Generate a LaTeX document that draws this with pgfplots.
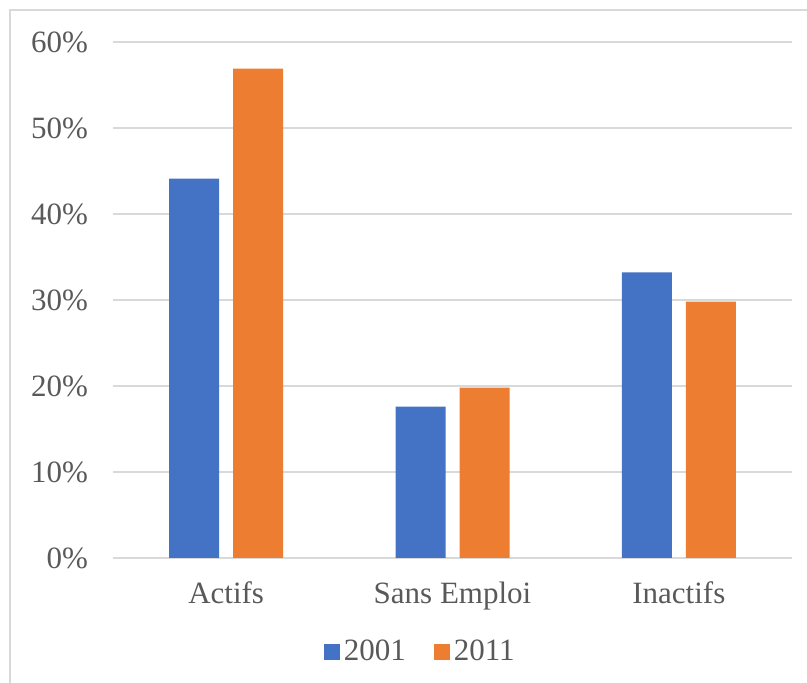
\documentclass[border=0pt]{standalone}
\usepackage{fontspec}
\setmainfont{Liberation Serif}
\usepackage{pgfplots}
\pgfplotsset{compat=1.18}
\definecolor{cblue}{HTML}{4472C4}
\definecolor{corange}{HTML}{ED7D31}
\definecolor{ctext}{HTML}{595959}
\definecolor{cgrid}{HTML}{D9D9D9}
\begin{document}
\begin{tikzpicture}
\useasboundingbox (-56.5pt,-62.5pt) rectangle (347pt,279pt);
\draw[cgrid, line width=1pt] (-51.5pt,-70pt) -- (-51.5pt,274pt) -- (360pt,274pt);
\begin{axis}[
    at={(0,0)}, anchor=south west,
    scale only axis,
    width=339.5pt, height=258pt,
    ybar=7pt, bar width=25pt,
    xmin=-0.5, xmax=2.5,
    ymin=0, ymax=60,
    xtick=data,
    xticklabels={Actifs, Sans Emploi, Inactifs},
    ytick={0,10,...,60},
    yticklabel={\pgfmathprintnumber{\tick}\%},
    /pgf/number format/assume math mode=true,
    major tick length=0pt,
    axis line style={draw=none},
    ymajorgrids,
    major grid style={cgrid, line width=0.75pt},
    tick label style={font=\fontsize{15.5}{18}\selectfont, text=ctext},
    yticklabel style={xshift=-9pt},
    xticklabel style={yshift=-8.5pt},
    legend style={at={(0.454,-0.182)}, anchor=center, draw=none,
        legend columns=-1, font=\fontsize{15.5}{18}\selectfont, text=ctext,
        /tikz/every even column/.append style={column sep=12pt}},
    legend image code/.code={\fill[#1] (0.5pt,-4pt) rectangle (8.5pt,4pt);},
]
\addplot[fill=cblue, draw=none] coordinates {(0,44.1) (1,17.6) (2,33.2)};
\addplot[fill=corange, draw=none] coordinates {(0,56.9) (1,19.8) (2,29.8)};
\legend{2001, 2011}
\end{axis}
\end{tikzpicture}
\end{document}
